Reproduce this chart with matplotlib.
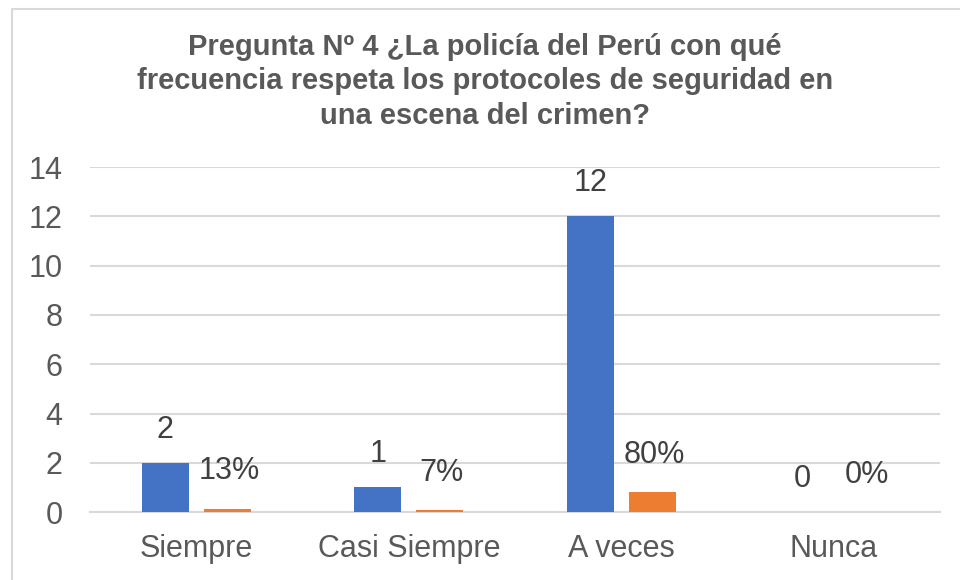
import matplotlib.pyplot as plt
from matplotlib.patches import Rectangle
import numpy as np

plt.rcParams['font.family'] = ['Liberation Sans', 'DejaVu Sans']

# Data
categories = ["Siempre", "Casi Siempre", "A veces", "Nunca"]
counts = [2, 1, 12, 0]
percents = [0.13, 0.07, 0.80, 0.0]
count_labels = ["2", "1", "12", "0"]
percent_labels = ["13%", "7%", "80%", "0%"]

title = ("Pregunta Nº 4 ¿La policía del Perú con qué\n"
         "frecuencia respeta los protocoles de seguridad en\n"
         "una escena del crimen?")

fig = plt.figure(figsize=(9.6, 5.8), dpi=100)
ax = fig.add_axes([0.094, 0.117, 0.885, 0.595])

# chart border (left/top visible)
fig.patches.append(Rectangle((12 / 960, -0.1), 1.1, (580 - 9) / 580 + 0.1,
                             transform=fig.transFigure, fill=False,
                             edgecolor='#d9d9d9', linewidth=1.5))

x = np.arange(len(categories))
w = 0.22
off = 0.146
ax.bar(x - off, counts, w, color='#4472c4', zorder=3)
ax.bar(x + off, percents, w, color='#ed7d31', zorder=3)

for xi, v, s in zip(x, counts, count_labels):
    ax.annotate(s, (xi - off, v), xytext=(0, 24), textcoords='offset points',
                ha='center', va='center', fontsize=22, color='#404040')
for xi, v, s in zip(x, percents, percent_labels):
    ax.annotate(s, (xi + off + 0.01, v), xytext=(0, 27), textcoords='offset points',
                ha='center', va='center', fontsize=22, color='#404040')

ax.set_xlim(-0.5, 3.5)
ax.set_ylim(0, 14)
ax.set_yticks(range(0, 15, 2))
ax.set_xticks(x)
ax.set_xticklabels(categories)
ax.tick_params(axis='both', length=0, labelsize=22, colors='#595959')
ax.tick_params(axis='y', pad=20)
ax.tick_params(axis='x', pad=16)
ax.grid(axis='y', color='#d9d9d9', linewidth=1.5, zorder=0)
for side in ['top', 'right', 'left']:
    ax.spines[side].set_visible(False)
ax.spines['bottom'].set_color('#d9d9d9')
ax.spines['bottom'].set_linewidth(1.5)

fig.text(0.505, 0.860, title, ha='center', va='center', fontsize=21,
         fontweight='bold', color='#595959', linespacing=1.3)

fig.savefig("out.png", dpi=100)
